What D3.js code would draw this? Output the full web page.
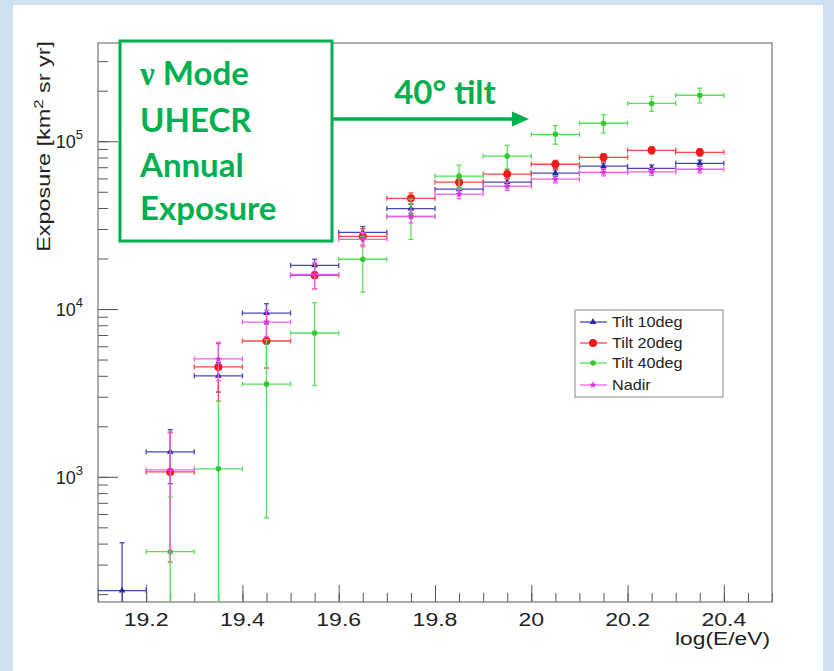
<!DOCTYPE html>
<html><head><meta charset="utf-8">
<script src="https://cdn.jsdelivr.net/npm/d3@7"></script>
<style>body{margin:0;background:#fff}svg{display:block}</style>
</head><body><svg id="c" width="834" height="671"></svg>
<script>
// ---------- data ----------
const binCenters = [19.15,19.25,19.35,19.45,19.55,19.65,19.75,19.85,19.95,20.05,20.15,20.25,20.35];
const binHalfWidth = 0.05;
const tilt10    = [210,1410,4000,9460,18200,28600,39700,51800,57000,64500,71000,69000,73900];
const tilt10Err = [195,500,800,1300,1600,2400,2500,2800,3000,3000,3200,3200,3300];
const tilt20    = [null,1070,4520,6450,15900,27100,45700,57000,63700,72900,80200,88300,85900];
const tilt20Err = [null,760,1700,2000,2700,3000,3500,3800,4000,4000,4200,4300,4300];
const tilt40    = [null,358,1116,3570,7200,19800,35600,62000,81500,110000,128000,168000,188000];
const tilt40Err = [null,400,1700,3000,3700,7200,9600,10000,13000,14000,16000,17000,19000];
const nadir     = [null,1100,5040,8360,16100,26000,35600,48400,54000,59400,65300,65700,68100];
const nadirErr  = [null,750,1300,1500,2900,2500,3000,3000,3000,3000,3200,3200,3300];
const seriesNames = ["Tilt 10deg","Tilt 20deg","Tilt 40deg","Nadir"];
const xDomain = [19.1, 20.5];
const yDomain = [179.5, 385000];
const xMajorTicks = [19.2,19.4,19.6,19.8,20.0,20.2,20.4];
const xTickLabels = ["19.2","19.4","19.6","19.8","20","20.2","20.4"];
const yMajorTicks = [1e3,1e4,1e5];
const yTickExponents = ["3","4","5"];
const annotationLines = ["UHECR","Annual","Exposure"];

// ---------- setup ----------
const svg = d3.select("#c");
const W = 834, H = 671;
const P = {left:98, right:772, top:43, bottom:602};
const x = d3.scaleLinear().domain(xDomain).range([P.left, P.right]);
const y = d3.scaleLog().domain(yDomain).range([P.bottom, P.top]);

// background
svg.append("rect").attr("width",W).attr("height",H).attr("fill","#cfe0f2");
svg.append("rect").attr("x",13).attr("y",5).attr("width",810).attr("height",H-5).attr("fill","#fff");

// ---------- axes ----------
const xMinor = d3.range(0, 29).map(i => xDomain[0] + i*0.05);
const yMinor = [];
[2,3,4,5].forEach(k => d3.range(1,10).forEach(mm => yMinor.push(mm*Math.pow(10,k))));
const yMinorIn = yMinor.filter(v => v >= yDomain[0] && v <= yDomain[1]);

function styleAxis(g){ g.select(".domain").remove(); g.selectAll(".tick line").attr("stroke","#555").attr("stroke-width",1); }

svg.append("g").attr("transform",`translate(0,${P.bottom})`)
  .call(d3.axisBottom(x).tickValues(xMinor).tickSize(-9).tickFormat("")).call(styleAxis);
svg.append("g").attr("transform",`translate(0,${P.bottom})`)
  .call(d3.axisBottom(x).tickValues(xMajorTicks).tickSize(-17).tickFormat("")).call(styleAxis);
svg.append("g").attr("transform",`translate(${P.left},0)`)
  .call(d3.axisLeft(y).tickValues(yMinorIn).tickSize(-10).tickFormat("")).call(styleAxis);
svg.append("g").attr("transform",`translate(${P.left},0)`)
  .call(d3.axisLeft(y).tickValues(yMajorTicks).tickSize(-20).tickFormat("")).call(styleAxis);

// frame
svg.append("rect").attr("x",P.left).attr("y",P.top).attr("width",P.right-P.left).attr("height",P.bottom-P.top)
  .attr("fill","none").attr("stroke","#777").attr("stroke-width",1.2);

// x tick labels
const lblFont = "'Liberation Sans', Arial, sans-serif";
xMajorTicks.forEach((v,i) => {
  svg.append("text").attr("transform",`translate(${x(v)},626) scale(1.28,1)`)
    .attr("text-anchor","middle").attr("font-family",lblFont).attr("font-size",18).attr("fill","#222")
    .text(xTickLabels[i]);
});
svg.append("text").attr("transform",`translate(770,645) scale(1.2,1)`)
  .attr("text-anchor","end").attr("font-family",lblFont).attr("font-size",19).attr("fill","#222")
  .text("log(E/eV)");

// y tick labels
yMajorTicks.forEach((v,i) => {
  const t = svg.append("text").attr("x",83).attr("y",y(v)+7).attr("text-anchor","end")
    .attr("font-family",lblFont).attr("font-size",18).attr("fill","#222");
  t.append("tspan").text("10");
  t.append("tspan").attr("dy",-9).attr("font-size",13).text(yTickExponents[i]);
});
// y title
const yt = svg.append("text").attr("transform","translate(50,41) rotate(-90) scale(1.3,1)")
  .attr("text-anchor","end").attr("font-family",lblFont).attr("font-size",18).attr("fill","#222");
yt.append("tspan").text("Exposure  [km");
yt.append("tspan").attr("dy",-7).attr("font-size",13).text("2");
yt.append("tspan").attr("dy",7).text(" sr yr]");

// ---------- data ----------
svg.append("clipPath").attr("id","clip").append("rect")
  .attr("x",P.left).attr("y",P.top).attr("width",P.right-P.left).attr("height",P.bottom-P.top);
const plot = svg.append("g").attr("clip-path","url(#clip)");

const series = [
  {vals:tilt10, errs:tilt10Err, line:"#4848b4", fill:"#2a2a9e", marker:"tri"},
  {vals:tilt20, errs:tilt20Err, line:"#ff4646", fill:"#ee1a1a", marker:"big"},
  {vals:tilt40, errs:tilt40Err, line:"#5ade5a", fill:"#2fcc2f", marker:"small"},
  {vals:nadir,  errs:nadirErr,  line:"#f060f0", fill:"#dd33dd", marker:"star"}
];

function drawMarker(g, kind, fill, cx, cy){
  if(kind==="tri"){
    g.append("path").attr("d", d3.symbol(d3.symbolTriangle, 20)()).attr("transform",`translate(${cx},${cy})`).attr("fill",fill);
  } else if(kind==="big"){
    g.append("circle").attr("cx",cx).attr("cy",cy).attr("r",4).attr("fill",fill);
  } else if(kind==="small"){
    g.append("circle").attr("cx",cx).attr("cy",cy).attr("r",2.8).attr("fill",fill);
  } else {
    g.append("path").attr("d", d3.symbol(d3.symbolStar, 18)()).attr("transform",`translate(${cx},${cy})`).attr("fill",fill);
  }
}

series.forEach(s => {
  const g = plot.append("g");
  s.vals.forEach((v,i) => {
    if(v==null) return;
    const c = binCenters[i], e = s.errs[i];
    const cy = y(v);
    const x0 = x(c-binHalfWidth), x1 = x(c+binHalfWidth), cx = x(c);
    const yUp = y(v+e);
    const yLo = (v-e) > yDomain[0]*0.5 ? y(v-e) : P.bottom+5;
    const st = sel => sel.attr("stroke",s.line).attr("stroke-width",1.3);
    g.append("line").attr("x1",x0).attr("x2",x1).attr("y1",cy).attr("y2",cy).call(st);
    g.append("line").attr("x1",x0).attr("x2",x0).attr("y1",cy-2.5).attr("y2",cy+2.5).call(st);
    g.append("line").attr("x1",x1).attr("x2",x1).attr("y1",cy-2.5).attr("y2",cy+2.5).call(st);
    g.append("line").attr("x1",cx).attr("x2",cx).attr("y1",yUp).attr("y2",yLo).call(st);
    g.append("line").attr("x1",cx-2.5).attr("x2",cx+2.5).attr("y1",yUp).attr("y2",yUp).call(st);
    if(yLo < P.bottom) g.append("line").attr("x1",cx-2.5).attr("x2",cx+2.5).attr("y1",yLo).attr("y2",yLo).call(st);
    drawMarker(g, s.marker, s.fill, cx, cy);
  });
});

// ---------- legend ----------
const lg = svg.append("g");
lg.append("rect").attr("x",575).attr("y",310).attr("width",148).attr("height",87)
  .attr("fill","#fff").attr("stroke","#888").attr("stroke-width",1);
const legendRows = [322,343,363,385];
series.forEach((s,i) => {
  const ly = legendRows[i];
  lg.append("line").attr("x1",580).attr("x2",607).attr("y1",ly).attr("y2",ly).attr("stroke",s.line).attr("stroke-width",1.3);
  drawMarker(lg, s.marker, s.fill, 593, ly);
  lg.append("text").attr("transform",`translate(612,${ly+5}) scale(1.08,1)`)
    .attr("font-family",lblFont).attr("font-size",15).attr("fill","#222").text(seriesNames[i]);
});

// ---------- annotation ----------
const green = "#00b050";
const annFont = "Lato, 'Open Sans', sans-serif";
svg.append("rect").attr("x",120).attr("y",41).attr("width",212).attr("height",200)
  .attr("fill","#fff").attr("stroke",green).attr("stroke-width",3);
const t0 = svg.append("text").attr("x",140).attr("y",85).attr("font-family",annFont)
  .attr("font-weight","bold").attr("font-size",33).attr("fill",green);
t0.append("tspan").attr("font-family","'Liberation Serif', serif").attr("font-weight","bold").text("ν");
t0.append("tspan").text(" Mode");
annotationLines.forEach((txt,i) => {
  svg.append("text").attr("x",140).attr("y",[132,177,220][i]).attr("font-family",annFont)
    .attr("font-weight","bold").attr("font-size",33).attr("fill",green).text(txt);
});
svg.append("line").attr("x1",332).attr("x2",516).attr("y1",119).attr("y2",119)
  .attr("stroke",green).attr("stroke-width",3.5);
svg.append("path").attr("d","M512,111.5 L529,119 L512,126.5 Z").attr("fill",green);
svg.append("text").attr("x",445).attr("y",104).attr("text-anchor","middle").attr("font-family",annFont)
  .attr("font-weight","bold").attr("font-size",33).attr("fill",green).text("40° tilt");
</script></body></html>
